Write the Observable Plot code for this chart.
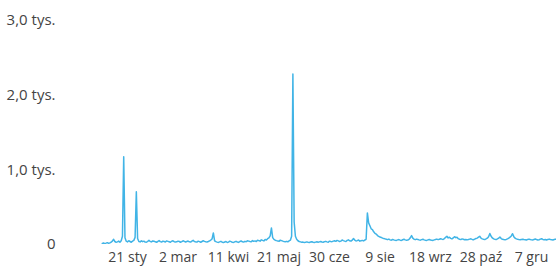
<!DOCTYPE html>
<html>
<head>
<meta charset="utf-8">
<script src="https://cdn.jsdelivr.net/npm/d3@7"></script>
<script src="https://cdn.jsdelivr.net/npm/@observablehq/plot@0.6"></script>
<style>
  html, body { margin: 0; padding: 0; background: #fff; overflow: hidden; }
</style>
</head>
<body>
<div id="chart"></div>
<script>
const year = 2023;

// Daily values per month
const jan = [15, 20, 12, 18, 25, 15, 22, 30, 45, 70, 40, 30, 35, 45, 30, 50, 110, 1175, 90, 45, 35, 50, 40, 30, 45, 55, 95, 705, 80, 40, 35];
const feb = [50, 38, 45, 32, 30, 42, 55, 40, 35, 48, 45, 36, 30, 40, 52, 38, 32, 45, 40, 34, 48, 42, 36, 30, 44, 50, 38, 34];
const mar = [36, 45, 40, 30, 38, 50, 42, 34, 40, 46, 36, 32, 44, 55, 40, 35, 33, 45, 38, 30, 40, 50, 42, 36, 34, 40, 48, 60, 75, 155, 50];
const apr = [38, 32, 28, 35, 42, 30, 26, 34, 40, 28, 32, 45, 38, 30, 28, 36, 42, 34, 28, 40, 48, 36, 32, 42, 38, 50, 45, 40, 36, 52];
const may = [42, 48, 40, 58, 52, 45, 62, 55, 48, 68, 60, 78, 88, 115, 222, 92, 68, 58, 52, 48, 42, 58, 52, 45, 40, 38, 42, 36, 48, 58, 110];
const jun = [2285, 300, 110, 70, 50, 40, 35, 30, 32, 28, 30, 35, 30, 28, 33, 38, 30, 27, 32, 36, 30, 35, 40, 33, 30, 38, 42, 35, 30, 45];
const jul = [40, 38, 45, 50, 42, 55, 48, 40, 45, 60, 52, 45, 40, 55, 62, 50, 45, 58, 80, 60, 48, 52, 60, 45, 50, 55, 48, 60, 70, 423, 290];
const aug = [250, 210, 200, 170, 150, 140, 120, 110, 100, 95, 85, 80, 75, 70, 65, 72, 62, 58, 68, 62, 58, 55, 62, 66, 58, 55, 64, 70, 62, 58, 60];
const sep = [70, 90, 120, 85, 70, 65, 72, 68, 62, 58, 65, 70, 62, 58, 55, 62, 68, 60, 58, 55, 62, 68, 72, 65, 70, 78, 72, 68, 80, 95];
const oct = [110, 88, 98, 82, 75, 88, 105, 92, 98, 78, 70, 66, 75, 70, 64, 68, 62, 66, 72, 76, 68, 64, 72, 80, 85, 98, 110, 85, 75, 70, 66];
const nov = [75, 85, 105, 148, 110, 88, 75, 70, 66, 75, 85, 100, 80, 70, 66, 64, 68, 75, 85, 98, 115, 145, 105, 85, 75, 70, 66, 64, 68, 70];
const dec = [66, 64, 60, 68, 72, 66, 62, 60, 68, 74, 66, 60, 64, 72, 78, 68, 64, 66, 60, 68, 72, 66, 64, 60, 66, 72, 68, 64, 66, 60, 68];

// Axis ticks
const xTickDates = ["2023-01-21", "2023-03-02", "2023-04-11", "2023-05-21", "2023-06-30", "2023-08-09", "2023-09-18", "2023-10-28", "2023-12-07"];
const xTickLabels = ["21 sty", "2 mar", "11 kwi", "21 maj", "30 cze", "9 sie", "18 wrz", "28 paź", "7 gru"];
const yTicks = [0, 1000, 2000, 3000];
const yTickLabels = ["0", "1,0 tys.", "2,0 tys.", "3,0 tys."];

const values = [...jan, ...feb, ...mar, ...apr, ...may, ...jun, ...jul, ...aug, ...sep, ...oct, ...nov, ...dec];
const data = values.map((v, i) => ({date: new Date(Date.UTC(year, 0, 1 + i)), value: v}));
const xTicks = xTickDates.map(s => new Date(s + "T00:00:00Z"));

const chart = Plot.plot({
  width: 556,
  height: 268,
  marginLeft: 101,
  marginRight: 0,
  marginTop: 20,
  marginBottom: 24,
  style: {
    fontFamily: "'Open Sans', 'Noto Sans', sans-serif",
    fontSize: "14px",
    color: "#444",
    background: "#fff",
    overflow: "hidden"
  },
  x: {
    type: "utc",
    domain: [new Date(Date.UTC(year, 0, 1)), new Date(Date.UTC(year, 11, 31))],
    range: [101.75, 561.3],
    label: null
  },
  y: {
    domain: [0, 3000],
    label: null
  },
  marks: [
    Plot.axisX({
      ticks: xTicks,
      tickFormat: d => xTickLabels[xTicks.findIndex(t => +t === +d)],
      tickSize: 0,
      tickPadding: 8,
      fontSize: 14,
      label: null
    }),
    Plot.axisY({
      ticks: yTicks,
      tickFormat: d => yTickLabels[yTicks.indexOf(d)],
      tickSize: 0,
      tickPadding: 46,
      fontSize: 15,
      label: null
    }),
    Plot.lineY(data, {x: "date", y: "value", stroke: "#41b4e6", strokeWidth: 1.5, clip: true})
  ]
});
document.getElementById("chart").appendChild(chart);
</script>
</body>
</html>
